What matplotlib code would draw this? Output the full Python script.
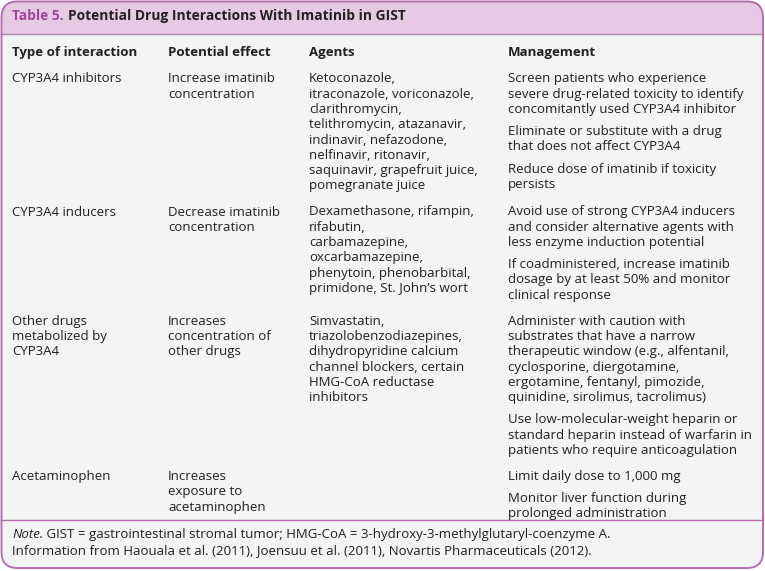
import matplotlib
matplotlib.use("Agg")
import matplotlib.pyplot as plt
from matplotlib.patches import FancyBboxPatch, Rectangle

plt.rcParams['font.family'] = ['Open Sans', 'DejaVu Sans']

# table content
title_num = "Table 5."
title_text = "Potential Drug Interactions With Imatinib in GIST"
col_headers = ["Type of interaction", "Potential effect", "Agents", "Management"]

interaction_types = [
    ["CYP3A4 inhibitors"],
    ["CYP3A4 inducers"],
    ["Other drugs", "metabolized by", "CYP3A4"],
    ["Acetaminophen"],
]
effects = [
    ["Increase imatinib", "concentration"],
    ["Decrease imatinib", "concentration"],
    ["Increases", "concentration of", "other drugs"],
    ["Increases", "exposure to", "acetaminophen"],
]
agents = [
    ["Ketoconazole,", "itraconazole, voriconazole,", "clarithromycin,",
     "telithromycin, atazanavir,", "indinavir, nefazodone,",
     "nelfinavir, ritonavir,", "saquinavir, grapefruit juice,",
     "pomegranate juice"],
    ["Dexamethasone, rifampin,", "rifabutin,", "carbamazepine,",
     "oxcarbamazepine,", "phenytoin, phenobarbital,",
     "primidone, St. John\u2019s wort"],
    ["Simvastatin,", "triazolobenzodiazepines,", "dihydropyridine calcium",
     "channel blockers, certain", "HMG-CoA reductase", "inhibitors"],
    [],
]
management = [
    [["Screen patients who experience", "severe drug-related toxicity to identify",
      "concomitantly used CYP3A4 inhibitor"],
     ["Eliminate or substitute with a drug", "that does not affect CYP3A4"],
     ["Reduce dose of imatinib if toxicity", "persists"]],
    [["Avoid use of strong CYP3A4 inducers", "and consider alternative agents with",
      "less enzyme induction potential"],
     ["If coadministered, increase imatinib", "dosage by at least 50% and monitor",
      "clinical response"]],
    [["Administer with caution with", "substrates that have a narrow",
      "therapeutic window (e.g., alfentanil,", "cyclosporine, diergotamine,",
      "ergotamine, fentanyl, pimozide,", "quinidine, sirolimus, tacrolimus)"],
     ["Use low-molecular-weight heparin or", "standard heparin instead of warfarin in",
      "patients who require anticoagulation"]],
    [["Limit daily dose to 1,000 mg"],
     ["Monitor liver function during", "prolonged administration"]],
]
note_lines = [
    ("Note.", " GIST = gastrointestinal stromal tumor; HMG-CoA = 3-hydroxy-3-methylglutaryl-coenzyme A."),
    ("", "Information from Haouala et al. (2011), Joensuu et al. (2011), Novartis Pharmaceuticals (2012)."),
]

# style
W, H = 765, 571
purple = "#b36fb1"
title_purple = "#a2469d"
header_bg = "#e6c9e3"
body_bg = "#f3f4f4"
txt = "#231f20"
fs = 9.5
col_x = [12, 168, 309, 508]
line_h = 15.3
para_gap = 6.8
row_gap = 26
base = 3.4  # baseline offset from the line's visual centre


def put(x, y, s, **kw):
    return ax.text(x, y + base, s, fontsize=kw.pop("fontsize", fs), color=kw.pop("color", txt),
                   va="baseline", ha="left", zorder=6, **kw)


fig = plt.figure(figsize=(W / 100, H / 100), dpi=100)
ax = fig.add_axes([0, 0, 1, 1])
ax.set_xlim(0, W)
ax.set_ylim(H, 0)
ax.axis("off")

x0, y0, x1, y1 = 1.5, 1.5, W - 2, H - 3
header_bottom = 34
note_line = 520

body = FancyBboxPatch((x0, y0), x1 - x0, y1 - y0,
                      boxstyle="round,pad=0,rounding_size=16",
                      facecolor=body_bg, edgecolor="none", zorder=1)
ax.add_patch(body)
head = FancyBboxPatch((x0, y0), x1 - x0, y1 - y0,
                      boxstyle="round,pad=0,rounding_size=16",
                      facecolor=header_bg, edgecolor="none", zorder=2)
ax.add_patch(head)
head.set_clip_path(Rectangle((0, 0), W, header_bottom, transform=ax.transData))
border = FancyBboxPatch((x0, y0), x1 - x0, y1 - y0,
                        boxstyle="round,pad=0,rounding_size=16",
                        facecolor="none", edgecolor=purple, linewidth=1.4, zorder=5)
ax.add_patch(border)
ax.plot([x0, x1], [header_bottom, header_bottom], color="#a88aa6", lw=1.0, zorder=4)
ax.plot([x0, x1], [note_line, note_line], color=purple, lw=1.0, zorder=4)

# title
t = put(12, 16.5, title_num, fontsize=9.9, fontweight="bold", color=title_purple)
fig.canvas.draw()
bb = t.get_window_extent().transformed(ax.transData.inverted())
put(bb.x1 + 4, 16.5, title_text, fontsize=9.9, fontweight="bold")

# column headers
for x, h in zip(col_x, col_headers):
    put(x, 53, h, fontweight="bold")

# rows
y = 79
for i in range(len(interaction_types)):
    heights = []
    for x, lines in zip(col_x[:3], [interaction_types[i], effects[i], agents[i]]):
        for k, s in enumerate(lines):
            put(x, y + k * line_h, s)
        heights.append(max(len(lines) - 1, 0) * line_h)
    yy = y
    for p, para in enumerate(management[i]):
        if p > 0:
            yy += line_h + para_gap
        for k, s in enumerate(para):
            put(col_x[3], yy + k * line_h, s)
        yy += (len(para) - 1) * line_h
    heights.append(yy - y)
    y = y + max(heights) + row_gap

# note
for k, (it, rest) in enumerate(note_lines):
    ny = 535 + k * line_h
    if it:
        t = put(12, ny, it, style="italic")
        fig.canvas.draw()
        bb = t.get_window_extent().transformed(ax.transData.inverted())
        put(bb.x1, ny, rest)
    else:
        put(12, ny, rest)

fig.savefig("out.png", dpi=100)
